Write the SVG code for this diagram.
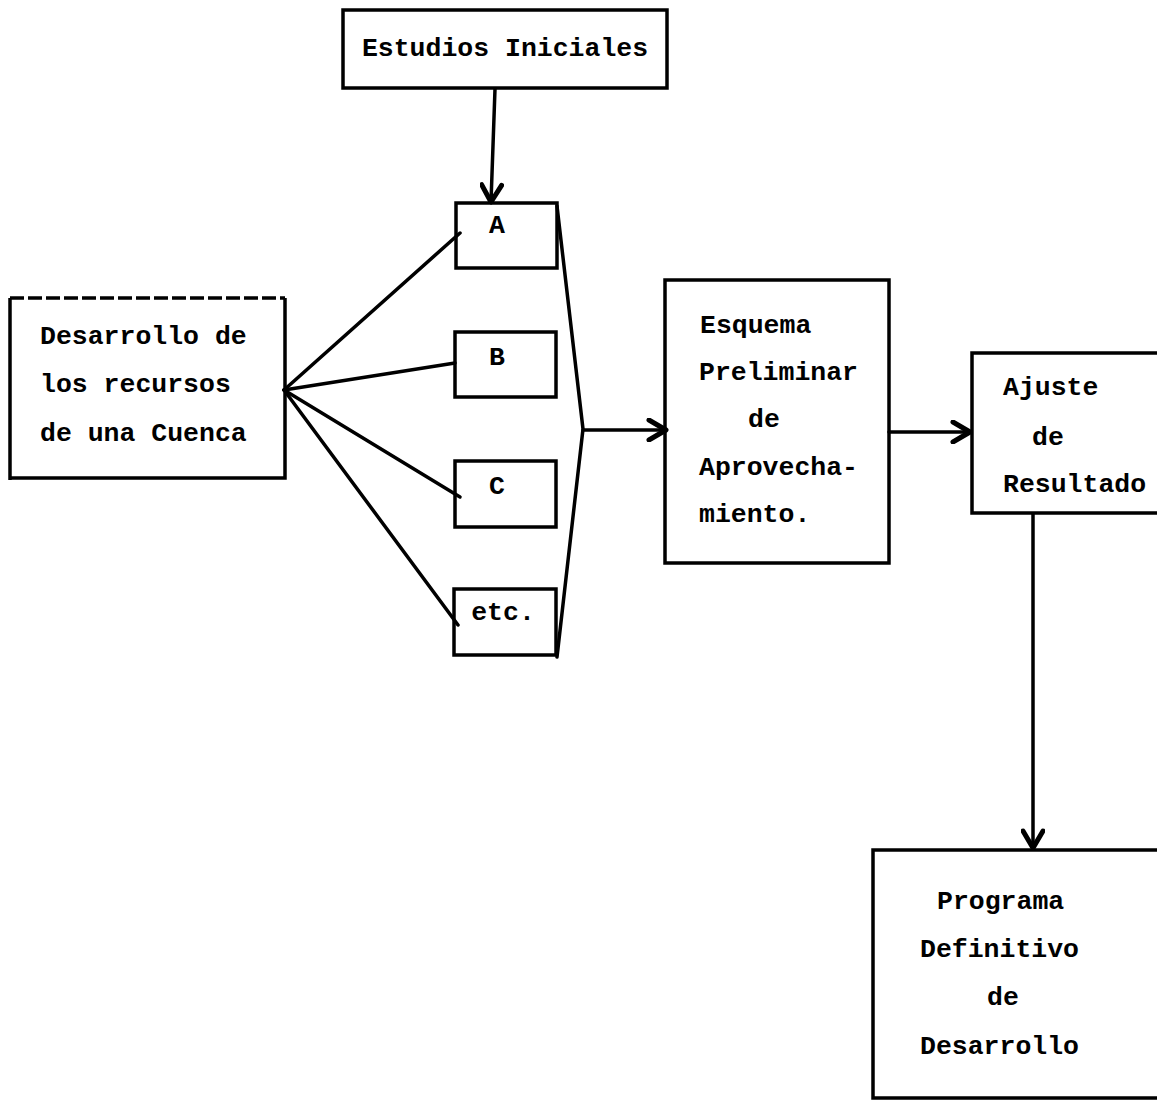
<svg xmlns="http://www.w3.org/2000/svg" width="1157" height="1101" viewBox="0 0 1157 1101">
<style>
.box{fill:none;stroke:#000;stroke-width:3.5}
.ln{fill:none;stroke:#000;stroke-width:3.5;stroke-linecap:round;stroke-linejoin:round}
text{font-family:"Liberation Mono","Courier New",monospace;font-weight:bold;font-size:26.5px;fill:#000}
</style>
<defs>
<marker id="ah" viewBox="0 0 24 24" refX="21" refY="12" markerWidth="24" markerHeight="24" markerUnits="userSpaceOnUse" orient="auto">
<path d="M4,2 L21,12 L4,22" fill="none" stroke="#000" stroke-width="5" stroke-linecap="round" stroke-linejoin="round"/>
</marker>
</defs>
<rect width="1157" height="1101" fill="#fff"/>
<g id="connectors">
<path class="ln" d="M495,89 L491,202" marker-end="url(#ah)"/>
<path class="ln" d="M284,390 L460,233"/>
<path class="ln" d="M284,390 L455,363"/>
<path class="ln" d="M284,390 L460,497"/>
<path class="ln" d="M284,390 L458,625"/>
<path class="ln" d="M557,206 L583,429 L557,657"/>
<path class="ln" d="M583,430 L666,430" marker-end="url(#ah)"/>
<path class="ln" d="M889,432 L970,432" marker-end="url(#ah)"/>
<path class="ln" d="M1033,514 L1033,848" marker-end="url(#ah)"/>
</g>
<g id="estudios">
<rect class="box" x="343" y="10" width="324" height="78"/>
<text x="505" y="56" text-anchor="middle">Estudios Iniciales</text>
</g>
<g id="desarrollo">
<path class="box" d="M10,298 L10,480 M10,478 L285,478 L285,298"/>
<path class="box" d="M10,298 L285,298" stroke-dasharray="14,4"/>
<text x="40" y="344">Desarrollo de</text>
<text x="40" y="392">los recursos</text>
<text x="40" y="441">de una Cuenca</text>
</g>
<g id="nodeA">
<rect class="box" x="456" y="203" width="101" height="65"/>
<text x="497" y="233" text-anchor="middle">A</text>
</g>
<g id="nodeB">
<rect class="box" x="455" y="332" width="101" height="65"/>
<text x="497" y="365" text-anchor="middle">B</text>
</g>
<g id="nodeC">
<rect class="box" x="455" y="461" width="101" height="66"/>
<text x="497" y="494" text-anchor="middle">C</text>
</g>
<g id="nodeEtc">
<rect class="box" x="454" y="589" width="102" height="66"/>
<text x="503" y="620" text-anchor="middle">etc.</text>
</g>
<g id="esquema">
<rect class="box" x="665" y="280" width="224" height="283"/>
<text x="700" y="333">Esquema</text>
<text x="699" y="380">Preliminar</text>
<text x="748" y="427">de</text>
<text x="699" y="475">Aprovecha-</text>
<text x="699" y="522">miento.</text>
</g>
<g id="ajuste">
<path class="box" d="M1160,353 L972,353 L972,513 L1160,513"/>
<text x="1003" y="395">Ajuste</text>
<text x="1032" y="445">de</text>
<text x="1003" y="492">Resultado</text>
</g>
<g id="programa">
<path class="box" d="M1160,850 L873,850 L873,1098 L1160,1098"/>
<text x="937" y="909">Programa</text>
<text x="920" y="957">Definitivo</text>
<text x="987" y="1005">de</text>
<text x="920" y="1054">Desarrollo</text>
</g>
</svg>
